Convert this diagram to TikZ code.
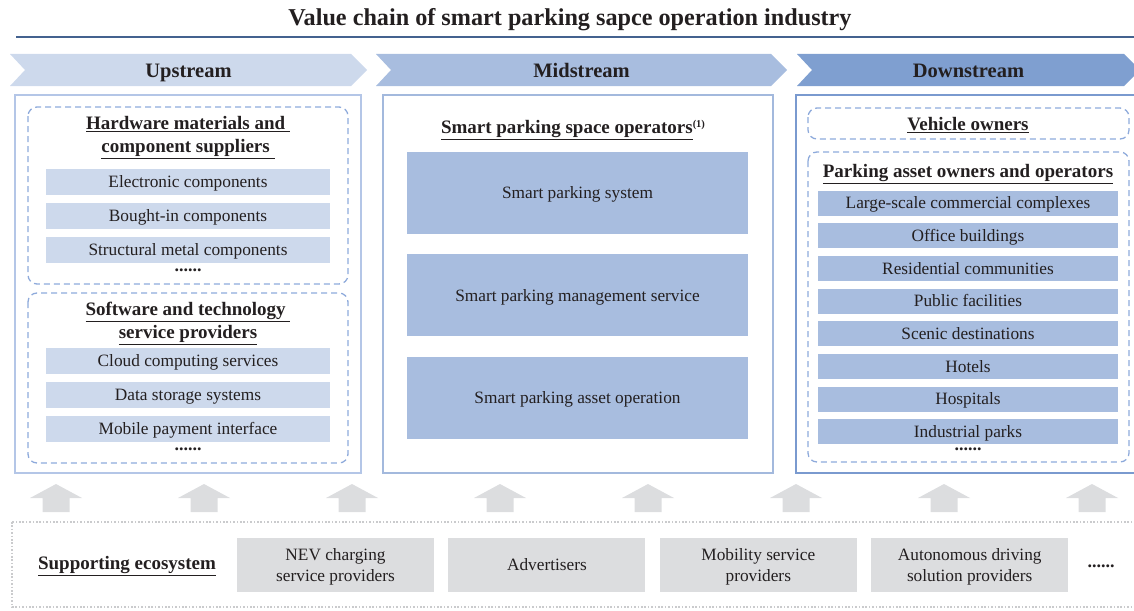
\documentclass[tikz,border=0pt]{standalone}
\usepackage{fontspec}
\setmainfont{Liberation Serif}
\usetikzlibrary{positioning,calc}
\definecolor{upBlue}{HTML}{CDD9EC}
\definecolor{upLine}{HTML}{B4C6E7}
\definecolor{midBlue}{HTML}{A8BDDF}
\definecolor{midLine}{HTML}{A3B9DD}
\definecolor{downBlue}{HTML}{7F9FD0}
\definecolor{downLine}{HTML}{7A9ACF}
\definecolor{dashBlue}{HTML}{8EAADB}
\definecolor{ruleBlue}{HTML}{44628F}
\definecolor{supGray}{HTML}{DCDDDF}
\definecolor{dotGray}{HTML}{CACBCD}
\definecolor{ink}{HTML}{231F20}

\begin{document}
\begin{tikzpicture}[x=1pt,y=-1pt,
				every node/.style={text=ink,font=\fontsize{17.3}{20}\selectfont,inner sep=0pt,text height=11.5pt,text depth=0pt},
				heading/.style={font=\fontsize{19}{23}\selectfont\bfseries,align=center,text height=12.8pt},
				twoLines/.style={text height=35.8pt},
				stageLabel/.style={font=\fontsize{20.5}{24}\selectfont\bfseries,text height=13.8pt},
				moreDots/.style={font=\fontsize{18}{20}\selectfont\bfseries,text height=3pt,yshift=1pt},
				upItem/.style={fill=upBlue,minimum width=284pt,minimum height=26.5pt},
				midItem/.style={fill=midBlue,minimum width=341pt,minimum height=82pt},
				downItem/.style={fill=midBlue,minimum width=300pt,minimum height=25pt},
				stageBox/.style={draw=#1,line width=2pt},
				groupBox/.style={draw=dashBlue,dash pattern=on 6pt off 4pt,line width=1.3pt,rounded corners=9pt},
				supItem/.style={fill=supGray,minimum width=197pt,minimum height=54pt,align=center,font=\fontsize{17.3}{21}\selectfont,text height=32.5pt},
				liftArrow/.style={fill=supGray}]
			\clip (0,0) rectangle (1134,610);
			\node[font=\fontsize{24.2}{28}\selectfont\bfseries,text height=16.3pt] (title) at (570,17) {Value chain of smart parking sapce operation industry};
			\draw[ruleBlue,line width=1.8pt] (16,37) -- (1134,37);
			\foreach \xa/\xb/\col/\lab/\nm in {10/351/upBlue/Upstream/up, 376/771/midBlue/Midstream/mid, 797/1124/downBlue/Downstream/down} {
					\fill[\col] (\xa,54) -- (\xb,54) -- (\xb+16,70) -- (\xb,86) -- (\xa,86) -- (\xa+15,70) -- cycle;
					\node[stageLabel] (\nm Tag) at ({(\xa+\xb)/2+8},71) {\lab};
				}
			\draw[stageBox=upLine] (15,95) rectangle (361,473);
			\draw[stageBox=midLine] (383,95) rectangle (773,473);
			\draw[stageBox=downLine] (796,95) rectangle (1140,473);

			\draw[groupBox] (28,107) rectangle (348,284);
			\node[heading,twoLines] (hwHead) at (188,134.5) {\underline{Hardware materials and\ }\\\underline{component suppliers\ }};
			\node[upItem] (hw1) at (188,182) {Electronic components};
			\node[upItem,below=7pt of hw1] (hw2) {Bought-in components};
			\node[upItem,below=7pt of hw2] (hw3) {Structural metal components};
			\node[moreDots] (hwMore) at (188,271) {......};

			\draw[groupBox] (28,293) rectangle (348,463);
			\node[heading,twoLines] (swHead) at (188,320.5) {\underline{Software and technology\ }\\\underline{service providers}};
			\node[upItem] (sw1) at (188,361) {Cloud computing services};
			\node[upItem,below=7pt of sw1] (sw2) {Data storage systems};
			\node[upItem,below=7pt of sw2] (sw3) {Mobile payment interface};
			\node[moreDots] (swMore) at (188,450) {......};

			\node[heading] (opHead) at (573,127) {\underline{Smart parking space operators}\raisebox{6pt}{\fontsize{10.5}{10.5}\selectfont(1)}};
			\node[midItem] (op1) at (577.5,193) {Smart parking system};
			\node[midItem,below=20pt of op1] (op2) {Smart parking management service};
			\node[midItem,below=20pt of op2] (op3) {Smart parking asset operation};

			\draw[groupBox] (808,108) rectangle (1129,139);
			\node[heading] (ownHead) at (968,124) {\underline{Vehicle owners}};
			\draw[groupBox] (808,152) rectangle (1129,462);
			\node[heading] (assetHead) at (968,171) {\underline{Parking asset owners and operators}};
			\node[downItem] (as1) at (968,203) {Large-scale commercial complexes};
			\node[downItem,below=7.3pt of as1] (as2) {Office buildings};
			\node[downItem,below=7.3pt of as2] (as3) {Residential communities};
			\node[downItem,below=7.3pt of as3] (as4) {Public facilities};
			\node[downItem,below=7.3pt of as4] (as5) {Scenic destinations};
			\node[downItem,below=7.3pt of as5] (as6) {Hotels};
			\node[downItem,below=7.3pt of as6] (as7) {Hospitals};
			\node[downItem,below=7.3pt of as7] (as8) {Industrial parks};
			\node[moreDots] (asMore) at (968,450) {......};

			\foreach \i [evaluate=\i as \ax using 56+148*\i] in {0,...,7}
				\fill[liftArrow] (\ax-13.5,512) -- (\ax-13.5,498) -- (\ax-26,498) -- (\ax,484) -- (\ax+26,498) -- (\ax+13.5,498) -- (\ax+13.5,512) -- cycle;

			\draw[dotGray,line width=1.6pt,dash pattern=on 1.6pt off 1.8pt] (12,522) rectangle (1140,607);
			\node[heading] (ecoHead) at (127,563) {\underline{Supporting ecosystem}};
			\node[supItem] (eco1) at (335.5,565) {NEV charging\\service providers};
			\node[supItem,right=14pt of eco1,text height=11.5pt] (eco2) {Advertisers};
			\node[supItem,right=14pt of eco2] (eco3) {Mobility service\\providers};
			\node[supItem,right=14pt of eco3] (eco4) {Autonomous driving\\solution providers};
			\node[moreDots] (ecoMore) at (1101,567) {......};
		\end{tikzpicture}
\end{document}
